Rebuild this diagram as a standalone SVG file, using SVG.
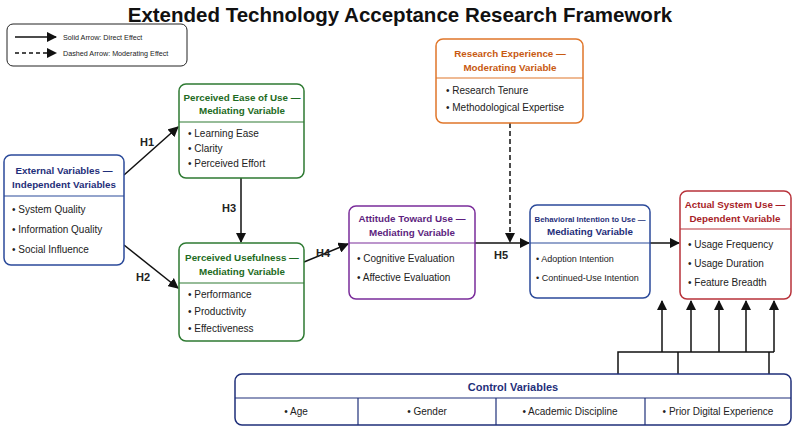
<svg xmlns="http://www.w3.org/2000/svg" width="800" height="433" viewBox="0 0 800 433">
<style>
text{font-family:"Liberation Sans",Arial,sans-serif;fill:#222}
.box{fill:#fff;stroke-width:1.5}
.h{font-weight:bold;font-size:9.8px;text-anchor:middle}
.i{font-size:10px}
.c{stroke:#111;stroke-width:1.5;fill:none}
.lbl{font-size:11px;font-weight:bold;text-anchor:middle}
</style>
<defs><marker id="a" viewBox="0 0 10 10" refX="9" refY="5" markerWidth="7" markerHeight="7" orient="auto"><path d="M0,0L10,5L0,10z" fill="#111"/></marker></defs>
<rect width="800" height="433" fill="#fff"/>
<text x="400" y="22" style="font-size:20.5px;font-weight:bold;text-anchor:middle;fill:#111">Extended Technology Acceptance Research Framework</text>
<g id="legend">
<rect x="7" y="24" width="180" height="42" rx="6" fill="#fff" stroke="#222"/>
<line x1="15" y1="37" x2="56" y2="37" class="c" marker-end="url(#a)"/>
<text x="63" y="40" style="font-size:7.2px">Solid Arrow: Direct Effect</text>
<line x1="15" y1="53" x2="56" y2="53" class="c" stroke-dasharray="4,3" marker-end="url(#a)"/>
<text x="63" y="56" style="font-size:7.2px">Dashed Arrow: Moderating Effect</text>
</g>
<g id="connectors">
<line x1="124" y1="175" x2="178" y2="127" class="c" marker-end="url(#a)"/>
<line x1="124" y1="245" x2="178" y2="288" class="c" marker-end="url(#a)"/>
<line x1="241" y1="178" x2="241" y2="242" class="c" marker-end="url(#a)"/>
<line x1="304" y1="262" x2="348" y2="244" class="c" marker-end="url(#a)"/>
<line x1="475" y1="243" x2="529" y2="243" class="c" marker-end="url(#a)"/>
<line x1="510" y1="123" x2="510" y2="242" class="c" stroke-dasharray="5,3" marker-end="url(#a)"/>
<line x1="650" y1="243" x2="679" y2="243" class="c" marker-end="url(#a)"/>
<polyline points="618,374 618,352 774,352" class="c"/>
<line x1="678" y1="352" x2="678" y2="374" class="c"/>
<line x1="769" y1="352" x2="769" y2="374" class="c"/>
<line x1="662" y1="352" x2="662" y2="301" class="c" marker-end="url(#a)"/>
<line x1="691" y1="352" x2="691" y2="301" class="c" marker-end="url(#a)"/>
<line x1="719" y1="352" x2="719" y2="301" class="c" marker-end="url(#a)"/>
<line x1="746" y1="352" x2="746" y2="301" class="c" marker-end="url(#a)"/>
<line x1="774" y1="352" x2="774" y2="301" class="c" marker-end="url(#a)"/>
<text x="147" y="146" class="lbl">H1</text>
<text x="143" y="281" class="lbl">H2</text>
<text x="229" y="212" class="lbl">H3</text>
<text x="323" y="257" class="lbl">H4</text>
<text x="501" y="259" class="lbl">H5</text>
</g>
<g id="external">
<rect x="4" y="155" width="120" height="110" rx="7" class="box" stroke="#2b4a9a"/>
<line x1="4" y1="196" x2="124" y2="196" stroke="#2b4a9a" stroke-width="1.2"/>
<text x="64" y="174" class="h" style="fill:#1f2f7a">External Variables —</text>
<text x="64" y="188" class="h" style="fill:#1f2f7a">Independent Variables</text>
<text x="12" y="213" class="i">•  System Quality</text>
<text x="12" y="233" class="i">•  Information Quality</text>
<text x="12" y="253" class="i">•  Social Influence</text>
</g>
<g id="peou">
<rect x="179" y="84" width="125" height="94" rx="7" class="box" stroke="#2e7a32"/>
<line x1="179" y1="122" x2="304" y2="122" stroke="#2e7a32" stroke-width="1.2"/>
<text x="242" y="101" class="h" style="fill:#1e6b23">Perceived Ease of Use —</text>
<text x="242" y="114" class="h" style="fill:#1e6b23">Mediating Variable</text>
<text x="188" y="137" class="i">•  Learning Ease</text>
<text x="188" y="152" class="i">•  Clarity</text>
<text x="188" y="167" class="i">•  Perceived Effort</text>
</g>
<g id="pu">
<rect x="179" y="243" width="125" height="98" rx="7" class="box" stroke="#2e7a32"/>
<line x1="179" y1="283" x2="304" y2="283" stroke="#2e7a32" stroke-width="1.2"/>
<text x="242" y="261" class="h" style="fill:#1e6b23">Perceived Usefulness —</text>
<text x="242" y="275" class="h" style="fill:#1e6b23">Mediating Variable</text>
<text x="188" y="298" class="i">•  Performance</text>
<text x="188" y="315" class="i">•  Productivity</text>
<text x="188" y="332" class="i">•  Effectiveness</text>
</g>
<g id="attitude">
<rect x="349" y="206" width="126" height="93" rx="7" class="box" stroke="#7a2c9a"/>
<line x1="349" y1="243" x2="475" y2="243" stroke="#7a2c9a" stroke-width="1.2"/>
<text x="412" y="222" class="h" style="fill:#5e1f80">Attitude Toward Use —</text>
<text x="412" y="236" class="h" style="fill:#5e1f80">Mediating Variable</text>
<text x="357" y="262" class="i">•  Cognitive Evaluation</text>
<text x="357" y="281" class="i">•  Affective Evaluation</text>
</g>
<g id="research">
<rect x="436" y="39" width="147" height="84" rx="7" class="box" stroke="#e0762a"/>
<line x1="436" y1="78" x2="583" y2="78" stroke="#e0762a" stroke-width="1.2"/>
<text x="510" y="57" class="h" style="fill:#c85a12">Research Experience —</text>
<text x="510" y="71" class="h" style="fill:#c85a12">Moderating Variable</text>
<text x="446" y="94" class="i">•  Research Tenure</text>
<text x="446" y="111" class="i">•  Methodological Expertise</text>
</g>
<g id="intention">
<rect x="530" y="205" width="120" height="93" rx="7" class="box" stroke="#2b4a9a"/>
<line x1="530" y1="243" x2="650" y2="243" stroke="#2b4a9a" stroke-width="1.2"/>
<text x="590" y="222" class="h" style="fill:#1f2f7a;font-size:7.8px">Behavioral Intention to Use —</text>
<text x="590" y="235" class="h" style="fill:#1f2f7a">Mediating Variable</text>
<text x="536" y="262" class="i" style="font-size:9px">•  Adoption Intention</text>
<text x="536" y="281" class="i" style="font-size:9px">•  Continued-Use Intention</text>
</g>
<g id="actual">
<rect x="680" y="191" width="111" height="108" rx="7" class="box" stroke="#b8323a"/>
<line x1="680" y1="229" x2="791" y2="229" stroke="#b8323a" stroke-width="1.2"/>
<text x="735" y="208" class="h" style="fill:#a81e28">Actual System Use —</text>
<text x="735" y="222" class="h" style="fill:#a81e28">Dependent Variable</text>
<text x="688" y="248" class="i">•  Usage Frequency</text>
<text x="688" y="267" class="i">•  Usage Duration</text>
<text x="688" y="286" class="i">•  Feature Breadth</text>
</g>
<g id="control">
<rect x="235" y="374" width="556" height="51" rx="7" class="box" stroke="#1f2f7a"/>
<line x1="235" y1="398" x2="791" y2="398" stroke="#1f2f7a" stroke-width="1.2"/>
<line x1="358" y1="398" x2="358" y2="425" stroke="#1f2f7a" stroke-width="1.2"/>
<line x1="496" y1="398" x2="496" y2="425" stroke="#1f2f7a" stroke-width="1.2"/>
<line x1="645" y1="398" x2="645" y2="425" stroke="#1f2f7a" stroke-width="1.2"/>
<text x="513" y="391" class="h" style="fill:#1f2f7a;font-size:11px">Control Variables</text>
<text x="296" y="415" class="i" style="text-anchor:middle">•  Age</text>
<text x="427" y="415" class="i" style="text-anchor:middle">•  Gender</text>
<text x="570" y="415" class="i" style="text-anchor:middle">•  Academic Discipline</text>
<text x="718" y="415" class="i" style="text-anchor:middle">•  Prior Digital Experience</text>
</g>
</svg>
